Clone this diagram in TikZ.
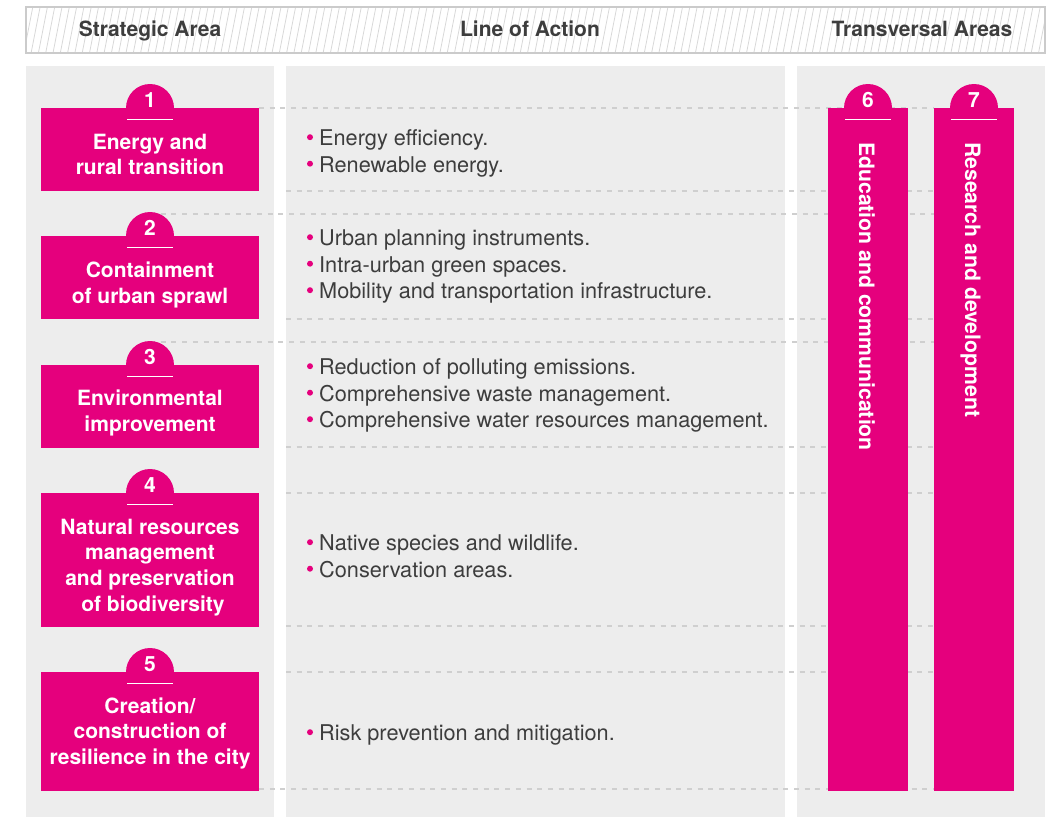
\documentclass[tikz,border=0pt]{standalone}
\usepackage{fontspec}
\setmainfont{TeX Gyre Heros}
\definecolor{brandpink}{HTML}{E5007D}
\definecolor{panelgray}{HTML}{EDEDED}
\definecolor{dashgray}{HTML}{CFCFCF}
\definecolor{txtgray}{HTML}{3D3D3D}
\definecolor{hatchgray}{HTML}{D8D8D8}
\definecolor{bordergray}{HTML}{CBCBCB}
\begin{document}
\begin{tikzpicture}[x=1pt,y=-1pt,
  dashln/.style={draw=dashgray, line width=2.3pt, dash pattern=on 5pt off 5.7pt},
  pbox/.style={fill=brandpink, draw=none, inner sep=0pt, anchor=north west},
  ptab/.style={fill=brandpink, draw=none},
  tabline/.style={draw=white, line width=1.4pt},
  boxtxt/.style={text=white, font=\fontsize{21}{25}\selectfont\bfseries, anchor=base, inner sep=0pt},
  vtxt/.style={text=white, font=\fontsize{21.2}{25}\selectfont\bfseries, anchor=base west, inner sep=0pt, rotate=-90},
  bul/.style={text=txtgray, font=\fontsize{21.7}{25}\selectfont, anchor=base west, inner sep=0pt},
  hdr/.style={text=txtgray, font=\fontsize{21}{25}\selectfont\bfseries, anchor=base, inner sep=0pt},
  hatch/.style={draw=hatchgray, line width=0.8pt},
]
\useasboundingbox (0,0) rectangle (1046,817);

% panels
\fill[panelgray] (26,66) rectangle (274,817);
\fill[panelgray] (286,66) rectangle (785,817);
\fill[panelgray] (797,66) rectangle (1045,817);

% header
\begin{scope}
  \clip (26,7) rectangle (1045,53);
  \foreach \i in {-20,-12.7,...,1050} \draw[hatch] (\i,53) -- ++(9,-46);
\end{scope}
\draw[draw=bordergray, line width=1.5pt] (26,7) rectangle (1045,53);
\node[hdr] (h1) at (150,36) {Strategic Area};
\node[hdr] (h2) at (530,36) {Line of Action};
\node[hdr] (h3) at (922,36) {Transversal Areas};

% dashed row lines
\foreach \ya/\xa in {108/259,191/286,214/150,319/286,342/150,447/286,493/286,626/286,672/286,789/259}
  \draw[dashln] (\xa,\ya) -- (934,\ya);

% strategic area boxes
\foreach \k/\t/\h in {1/108/83,2/236/83,3/365/83,4/493/134,5/672/119}{
  \fill[ptab] (150,\t) circle[radius=24pt];
  \node[pbox, minimum width=218pt, minimum height=\h pt] (b\k) at (41,\t) {};
  \node[boxtxt] (n\k) at (150,{\t-0.5}) {\k};
  \draw[tabline] (127,{\t+11.5}) -- (173,{\t+11.5});
}

% box texts
\foreach \y/\s [count=\c] in {149.5/Energy and,174.5/rural transition,
  277.5/Containment,303.5/of urban sprawl,
  405.5/Environmental,431.5/improvement,
  534.5/Natural resources,559.5/management,585.5/and preservation,611.5/\hspace*{6pt}of biodiversity,
  713.5/{Creation/},738.5/construction of,764.5/resilience in the city}
  \node[boxtxt] (s\c) at (150,\y) {\s};

% transversal columns
\fill[ptab] (868,108) circle[radius=24pt];
\fill[ptab] (974,108) circle[radius=24pt];
\node[pbox, minimum width=80pt, minimum height=683pt] (c6) at (828,108) {};
\node[pbox, minimum width=80pt, minimum height=683pt] (c7) at (934,108) {};
\node[boxtxt] (n6) at (868,107.5) {6};
\node[boxtxt] (n7) at (974,107.5) {7};
\draw[tabline] (845,119.5) -- (891,119.5);
\draw[tabline] (951,119.5) -- (997,119.5);
\node[vtxt] (v6) at (859,142) {Education and communication};
\node[vtxt] (v7) at (965,142) {Research and development};

% lines of action
\foreach \y/\s [count=\c] in {145.5/Energy efficiency.,172/Renewable energy.,
  245.5/Urban planning instruments.,272/Intra-urban green spaces.,298.5/Mobility and transportation infrastructure.,
  374.5/Reduction of polluting emissions.,401/Comprehensive waste management.,427.5/Comprehensive water resources management.,
  550.5/Native species and wildlife.,577/Conservation areas.,
  740.5/Risk prevention and mitigation.}{
  \fill[brandpink] (310,{\y-8.3}) circle[radius=3pt];
  \node[bul] (a\c) at (319,\y) {\s};
}
\end{tikzpicture}
\end{document}
